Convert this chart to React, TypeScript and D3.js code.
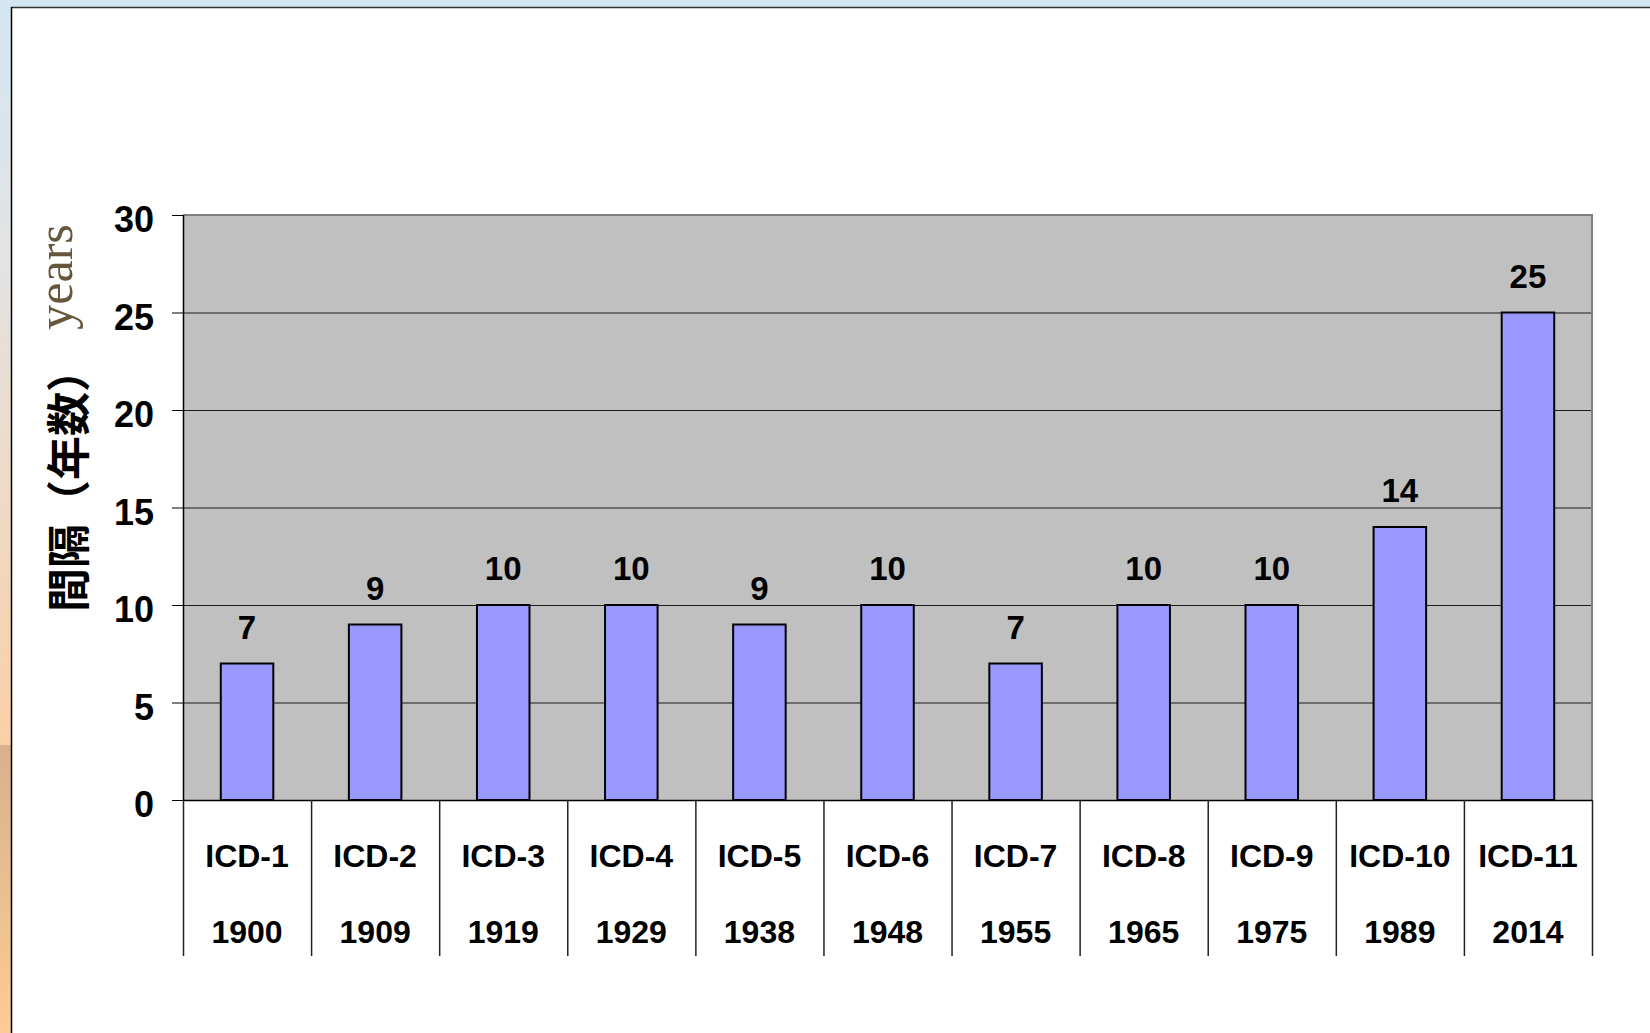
import React from "react";
import * as d3 from "d3";

const categories = ["ICD-1", "ICD-2", "ICD-3", "ICD-4", "ICD-5", "ICD-6", "ICD-7", "ICD-8", "ICD-9", "ICD-10", "ICD-11"];
const years = ["1900", "1909", "1919", "1929", "1938", "1948", "1955", "1965", "1975", "1989", "2014"];
const values = [7, 9, 10, 10, 9, 10, 7, 10, 10, 14, 25];
const yTicks = [0, 5, 10, 15, 20, 25, 30];

const W = 1650;
const H = 1033;
const plot = { left: 183, right: 1592, top: 215, bottom: 800 };
const FONT = "'Liberation Sans', Arial, Helvetica, sans-serif";

export default function App() {
  const x = d3.scaleBand<string>().domain(categories).range([plot.left, plot.right]).padding(0);
  const y = d3.scaleLinear().domain([0, 30]).range([plot.bottom, plot.top]);
  const step = x.step();
  const barW = step * 0.41;

  return (
    <svg
      width={W}
      height={H}
      style={{ position: "fixed", left: 0, top: 0, display: "block" }}
      xmlns="http://www.w3.org/2000/svg"
    >
      <defs>
        <linearGradient id="strip" x1="0" y1="0" x2="0" y2="1">
          <stop offset="0" stopColor="#d4e6f3" />
          <stop offset="0.35" stopColor="#e3e3e3" />
          <stop offset="0.8" stopColor="#f3d6ba" />
          <stop offset="1" stopColor="#fad0a6" />
        </linearGradient>
        <linearGradient id="strip2" x1="0" y1="0" x2="0" y2="1">
          <stop offset="0" stopColor="#d8b18c" />
          <stop offset="0.5" stopColor="#eabf90" />
          <stop offset="1" stopColor="#fdcb95" />
        </linearGradient>
      </defs>
      {/* outer background */}
      <rect x={0} y={0} width={W} height={H} fill="#ffffff" />
      <rect x={0} y={0} width={W} height={7} fill="#d3e6f3" />
      <rect x={0} y={0} width={11} height={745} fill="url(#strip)" />
      <rect x={0} y={745} width={11} height={H - 745} fill="url(#strip2)" />
      {/* panel border */}
      <line x1={11} y1={7.5} x2={W} y2={7.5} stroke="#333" strokeWidth={1.5} />
      <line x1={11.5} y1={7} x2={11.5} y2={H} stroke="#000" strokeWidth={1.5} />

      {/* plot area */}
      <rect x={plot.left} y={plot.top} width={plot.right - plot.left} height={plot.bottom - plot.top} fill="#c0c0c0" />
      {yTicks.filter((t) => t > 0 && t < 30).map((t) => (
        <line key={"g" + t} x1={plot.left} x2={plot.right} y1={y(t) + 0.5} y2={y(t) + 0.5} stroke="#1a1a1a" strokeWidth={1} />
      ))}
      <line x1={plot.left} x2={plot.right + 1} y1={plot.top} y2={plot.top} stroke="#808080" strokeWidth={2} />
      <line x1={plot.right} x2={plot.right} y1={plot.top} y2={plot.bottom} stroke="#808080" strokeWidth={2} />

      {/* bars */}
      {categories.map((c, i) => {
        const cx = (x(c) as number) + step / 2;
        return (
          <g key={c}>
            <rect
              x={cx - barW / 2}
              y={y(values[i])}
              width={barW}
              height={y(0) - y(values[i])}
              fill="#9999ff"
              stroke="#000"
              strokeWidth={2}
            />
            <text
              x={cx}
              y={y(values[i]) - 25}
              textAnchor="middle"
              fontFamily={FONT}
              fontWeight="bold"
              fontSize={33}
              fill="#000"
            >
              {values[i]}
            </text>
          </g>
        );
      })}

      {/* axes */}
      <line x1={plot.left + 0.5} x2={plot.left + 0.5} y1={plot.top} y2={plot.bottom} stroke="#000" strokeWidth={1.5} />
      <line x1={plot.left} x2={plot.right} y1={plot.bottom + 0.5} y2={plot.bottom + 0.5} stroke="#000" strokeWidth={1.5} />
      {yTicks.map((t) => (
        <g key={"t" + t}>
          <line x1={172} x2={plot.left} y1={y(t) + 0.5} y2={y(t) + 0.5} stroke="#000" strokeWidth={1} />
          <text
            x={154}
            y={y(t) + 17}
            textAnchor="end"
            fontFamily={FONT}
            fontWeight="bold"
            fontSize={36}
            fill="#000"
          >
            {t}
          </text>
        </g>
      ))}

      {/* category separators and labels */}
      {d3.range(categories.length + 1).map((i) => {
        const xx = plot.left + i * step;
        return <line key={"s" + i} x1={xx + 0.5} x2={xx + 0.5} y1={plot.bottom} y2={956} stroke="#222" strokeWidth={1.5} />;
      })}
      {categories.map((c, i) => {
        const cx = (x(c) as number) + step / 2;
        return (
          <g key={"l" + c}>
            <text x={cx} y={867} textAnchor="middle" fontFamily={FONT} fontWeight="bold" fontSize={32} fill="#000">
              {c}
            </text>
            <text x={cx} y={943} textAnchor="middle" fontFamily={FONT} fontWeight="bold" fontSize={32} fill="#000">
              {years[i]}
            </text>
          </g>
        );
      })}

      {/* y axis titles */}
      <text
        transform="translate(66,612) rotate(-90)"
        textAnchor="start"
        dominantBaseline="central"
        fontFamily="'Noto Sans CJK JP', 'Noto Sans CJK SC', sans-serif"
        fontWeight="bold"
        fontSize={44}
        fill="#000"
      >
        間隔（年数）
      </text>
      <text
        transform="translate(72,277) rotate(-90)"
        textAnchor="middle"
        fontFamily="'Liberation Serif', 'Times New Roman', serif"
        fontSize={50}
        fill="#66563a"
      >
        years
      </text>
    </svg>
  );
}
